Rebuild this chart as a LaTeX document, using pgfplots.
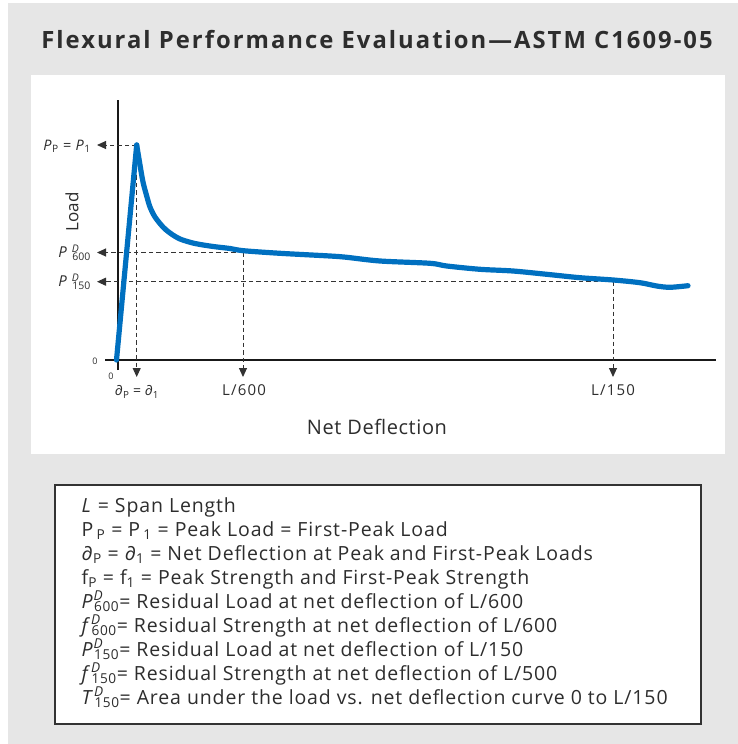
\documentclass[border=0pt]{standalone}
\usepackage{fontspec}
\setmainfont{Open Sans}
\usepackage{pgfplots}
\pgfplotsset{compat=1.18}
\usetikzlibrary{arrows.meta}
\definecolor{bgray}{RGB}{230,230,230}
\definecolor{cblue}{RGB}{0,112,192}
\definecolor{txt}{RGB}{45,45,45}
\newcommand\SD[2]{\textsuperscript{\rlap{#1}}\textsubscript{#2}}
\tikzset{dl/.style={dash pattern=on 4.5pt off 3pt, line width=1pt, black!80},
  tip/.style={-{Triangle[length=9pt,width=8pt]}}}
\begin{document}
\begin{tikzpicture}
\fill[white] (0pt,0pt) rectangle (738pt,-744pt);
\fill[bgray] (8pt,-3pt) rectangle (738pt,-744pt);
\fill[white] (31pt,-75pt) rectangle (725pt,-454pt);
\node[anchor=base, font=\fontsize{23.8}{28}\selectfont\bfseries\addfontfeatures{LetterSpace=8.5}, text=txt, inner sep=0pt] at (377pt,-48.3pt) {Flexural Performance Evaluation—ASTM C1609-05};
\begin{axis}[at={(105pt,-370pt)}, anchor=south west, scale only axis,
  x=1pt, y=1pt, xmin=-13, xmax=598, ymin=-10, ymax=260,
  axis lines=middle, axis line style={line width=2.6pt, -, black!90},
  ticks=none, clip=false]
\draw[dl, tip] (axis cs:18.7,215) -- (axis cs:-21,215);
\draw[dl, tip] (axis cs:125,107.5) -- (axis cs:-21,107.5);
\draw[dl, tip] (axis cs:495,78.3) -- (axis cs:-21,78.3);
\draw[dl, tip] (axis cs:18.7,215) -- (axis cs:18.7,-17);
\draw[dl, tip] (axis cs:125,107.5) -- (axis cs:125,-17);
\draw[dl, tip] (axis cs:495,78.3) -- (axis cs:495,-17);
\addplot[cblue, line width=5.2pt, line join=round, line cap=round] coordinates {
(-1.5,0) (18.7,215)
};
\addplot[cblue, line width=5.2pt, line join=round, line cap=round, smooth, tension=0.5] coordinates {
(18.7,215) (22,195) (25,178) (28.7,164) (32,153) (37,143) (45,133)
(52,127) (62,121) (77,116.5) (95.3,113.5) (112,111.5) (125.3,109.3) (162,106.7)
(212,104) (228.7,102.7) (262,99) (312,96.7) (328.7,94) (362,90.7) (395,89)
(428.7,85.7) (462,82.3) (495.3,80) (522,77.3) (538.7,74) (552,72.7) (570,74.3)
};
\node[anchor=east, text=txt, font=\fontsize{14.5}{16}\selectfont\addfontfeatures{LetterSpace=4}, inner sep=0pt] at (axis cs:-27,214) {\textit{P}\textsubscript{P} = \textit{P}\textsubscript{1}};
\node[anchor=east, text=txt, font=\fontsize{15}{17}\selectfont, inner sep=0pt] at (axis cs:-27,107.5) {\textit{P}\,\,\SD{\textit{D}}{600}};
\node[anchor=east, text=txt, font=\fontsize{15}{17}\selectfont, inner sep=0pt] at (axis cs:-27,78.3) {\textit{P}\,\,\SD{\textit{D}}{150}};
\node[rotate=90, text=txt, font=\fontsize{17}{20}\selectfont] at (axis cs:-46,148) {Load};
\node[text=txt, font=\fontsize{9}{10}\selectfont] at (axis cs:-23,-1) {0};
\node[text=txt, font=\fontsize{9}{10}\selectfont] at (axis cs:-7,-16) {0};
\node[text=txt, font=\fontsize{14}{16}\selectfont] at (axis cs:19,-32) {∂\textsubscript{P} = ∂\textsubscript{1}};
\node[text=txt, font=\fontsize{15}{16}\selectfont\addfontfeatures{LetterSpace=8}] at (axis cs:126,-30) {L/600};
\node[text=txt, font=\fontsize{15}{16}\selectfont\addfontfeatures{LetterSpace=8}] at (axis cs:495,-30) {L/150};
\node[text=txt, font=\fontsize{20}{22}\selectfont\addfontfeatures{LetterSpace=3}] at (axis cs:259,-67) {Net Deflection};
\end{axis}
\draw[black!80, line width=1.2pt, fill=white] (55pt,-485pt) rectangle (701pt,-724pt);
\begin{scope}[every node/.style={anchor=base west, inner sep=0pt, text=txt, font=\fontsize{19.5}{22}\selectfont\addfontfeatures{LetterSpace=4.5}}]
\node at (81.5pt,-512pt) {\textit{L} = Span Length};
\node at (81.5pt,-536pt) {P\,\textsubscript{P} = P\,\textsubscript{1} = Peak Load = First-Peak Load};
\node at (81.5pt,-560pt) {∂\textsubscript{P} = ∂\textsubscript{1} = Net Deflection at Peak and First-Peak Loads};
\node at (81.5pt,-584pt) {f\textsubscript{P} = f\textsubscript{1} = Peak Strength and First-Peak Strength};
\node at (81.5pt,-608pt) {\textit{P}\SD{\textit{D}}{600}= Residual Load at net deflection of L/600};
\node at (81.5pt,-632pt) {\textit{f}\SD{\textit{D}}{600}= Residual Strength at net deflection of L/600};
\node at (81.5pt,-656pt) {\textit{P}\SD{\textit{D}}{150}= Residual Load at net deflection of L/150};
\node at (81.5pt,-680pt) {\textit{f}\SD{\textit{D}}{150}= Residual Strength at net deflection of L/500};
\node at (81.5pt,-704pt) {\textit{T}\SD{\textit{D}}{150}= Area under the load vs. net deflection curve 0 to L/150};
\end{scope}
\end{tikzpicture}
\end{document}
